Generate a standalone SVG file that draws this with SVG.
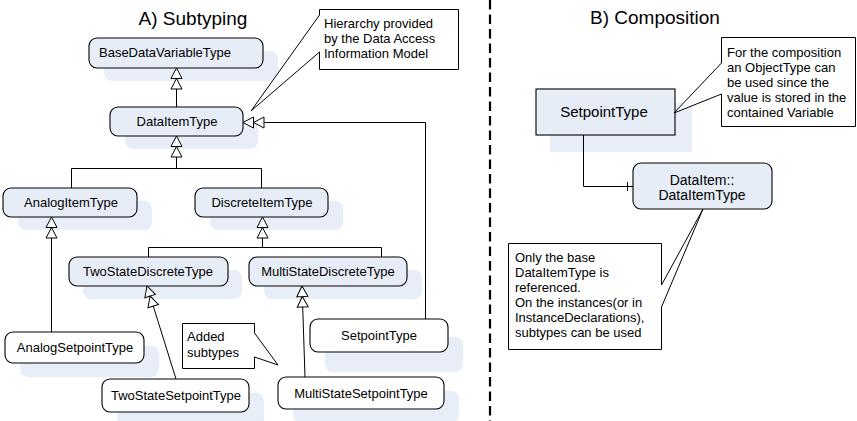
<svg xmlns="http://www.w3.org/2000/svg" width="857" height="421" viewBox="0 0 857 421">
<style>
text{font-family:"Liberation Sans",Arial,sans-serif;fill:#000}
.t{font-size:13px;text-anchor:middle}
.c{font-size:13px}
.title{font-size:19px;text-anchor:middle}
.box{fill:#e6edf7;stroke:#000;stroke-width:1.1}
.wbox{fill:#fff;stroke:#000;stroke-width:1.1}
.sh{fill:#e8eef8;stroke:none}
.ln{fill:none;stroke:#000;stroke-width:1}
.call{fill:#fff;stroke:#000;stroke-width:1}
</style>
<defs>
<marker id="gen" markerUnits="userSpaceOnUse" markerWidth="24" markerHeight="14" viewBox="0 0 24 14" refX="22.5" refY="7" orient="auto">
<path d="M22.5,7 L12,1.5 L12,12.5 Z M12,7 L1.5,1.5 L1.5,12.5 Z" fill="#fff" stroke="#000" stroke-width="1"/>
</marker>
</defs>
<rect width="857" height="421" fill="#fff"/>

<text class="title" x="193" y="25">A) Subtyping</text>
<text class="title" x="655" y="24">B) Composition</text>
<line x1="490" y1="0" x2="490" y2="421" stroke="#000" stroke-width="2.2" stroke-dasharray="9.5 5"/>

<g id="shadows">
<rect class="sh" x="104" y="51" width="174" height="30" rx="8"/>
<rect class="sh" x="125" y="120" width="133" height="29" rx="8"/>
<rect class="sh" x="18" y="201" width="134" height="29" rx="8"/>
<rect class="sh" x="210" y="201" width="133" height="29" rx="8"/>
<rect class="sh" x="83" y="270" width="159" height="29" rx="8"/>
<rect class="sh" x="264" y="270" width="158" height="29" rx="8"/>
<rect class="sh" x="20" y="346" width="139" height="31" rx="8"/>
<rect class="sh" x="325" y="337" width="138" height="35" rx="8"/>
<rect class="sh" x="117" y="393" width="147" height="33" rx="8"/>
<rect class="sh" x="293" y="391" width="166" height="32" rx="8"/>
<rect class="sh" x="550" y="103" width="142" height="49"/>
</g>

<g id="connectors">
<path class="ln" d="M176.5,107 V68" marker-end="url(#gen)"/>
<path class="ln" d="M71.5,188 V168.5 H261.5 V188"/>
<path class="ln" d="M176.5,168.5 V136" marker-end="url(#gen)"/>
<path class="ln" d="M51.5,332 V217" marker-end="url(#gen)"/>
<path class="ln" d="M148.5,257 V247.5 H381.5 V257"/>
<path class="ln" d="M262.5,247.5 V217" marker-end="url(#gen)"/>
<path class="ln" d="M176,379 L147,286" marker-end="url(#gen)"/>
<path class="ln" d="M305,377 L302,286" marker-end="url(#gen)"/>
<path class="ln" d="M425.5,319 V122.5 H243" marker-end="url(#gen)"/>
<path class="ln" d="M583.5,135 V186.5 H633"/>
<path class="ln" d="M627.5,182 V191"/>
</g>

<g id="BaseDataVariableType">
<rect class="box" x="89" y="38" width="174" height="30" rx="8"/>
<text class="t" x="165" y="57">BaseDataVariableType</text>
</g>
<g id="DataItemType">
<rect class="box" x="110" y="107" width="133" height="29" rx="8"/>
<text class="t" x="177" y="126">DataItemType</text>
</g>
<g id="AnalogItemType">
<rect class="box" x="3" y="188" width="134" height="29" rx="8"/>
<text class="t" x="71" y="207">AnalogItemType</text>
</g>
<g id="DiscreteItemType">
<rect class="box" x="195" y="188" width="133" height="29" rx="8"/>
<text class="t" x="262" y="207">DiscreteItemType</text>
</g>
<g id="TwoStateDiscreteType">
<rect class="box" x="69" y="257" width="159" height="29" rx="8"/>
<text class="t" x="148" y="276">TwoStateDiscreteType</text>
</g>
<g id="MultiStateDiscreteType">
<rect class="box" x="249" y="257" width="158" height="29" rx="8"/>
<text class="t" x="328" y="276">MultiStateDiscreteType</text>
</g>
<g id="AnalogSetpointType">
<rect class="wbox" x="5" y="332" width="139" height="31" rx="8"/>
<text class="t" x="75" y="352">AnalogSetpointType</text>
</g>
<g id="SetpointType">
<rect class="wbox" x="310" y="319" width="138" height="33" rx="8"/>
<text class="t" x="379" y="340">SetpointType</text>
</g>
<g id="TwoStateSetpointType">
<rect class="wbox" x="102" y="379" width="147" height="33" rx="8"/>
<text class="t" x="176" y="400">TwoStateSetpointType</text>
</g>
<g id="MultiStateSetpointType">
<rect class="wbox" x="278" y="377" width="166" height="32" rx="8"/>
<text class="t" x="361" y="398">MultiStateSetpointType</text>
</g>

<g id="note-hierarchy">
<path class="call" d="M319.5,9.5 H458.5 V69.5 H319.5 V52 L251,111 L319.5,15 Z"/>
<text class="c" x="324" y="28">Hierarchy provided</text>
<text class="c" x="324" y="43">by the Data Access</text>
<text class="c" x="324" y="58">Information Model</text>
</g>
<g id="note-added">
<path class="call" d="M182.5,323.5 H254.5 V333 L278,365 L254.5,357 V368.5 H182.5 Z"/>
<text class="c" x="187" y="341">Added</text>
<text class="c" x="187" y="357">subtypes</text>
</g>

<g id="B-SetpointType">
<rect class="box" x="536" y="89" width="139" height="46"/>
<text class="t" x="604" y="117" style="font-size:15px">SetpointType</text>
</g>
<g id="B-DataItem">
<rect class="box" x="633" y="163" width="139" height="46" rx="8"/>
<text class="t" x="702" y="185" style="font-size:14px">DataItem::</text>
<text class="t" x="702" y="200" style="font-size:14px">DataItemType</text>
</g>
<g id="note-composition">
<path class="call" d="M721.5,37.5 H855.5 V126.5 H721.5 V94 L674,113 L721.5,63 Z"/>
<text class="c" x="727" y="57">For the composition</text>
<text class="c" x="727" y="72">an ObjectType can</text>
<text class="c" x="727" y="87">be used since the</text>
<text class="c" x="727" y="102">value is stored in the</text>
<text class="c" x="727" y="117">contained Variable</text>
</g>
<g id="note-base">
<path class="call" d="M508.5,243.5 H661.5 V285 L703,209 L661.5,307 V349.5 H508.5 Z"/>
<text class="c" x="515" y="262">Only the base</text>
<text class="c" x="515" y="277">DataItemType is</text>
<text class="c" x="515" y="292">referenced.</text>
<text class="c" x="515" y="307">On the instances(or in</text>
<text class="c" x="515" y="322">InstanceDeclarations),</text>
<text class="c" x="515" y="337">subtypes can be used</text>
</g>
</svg>
